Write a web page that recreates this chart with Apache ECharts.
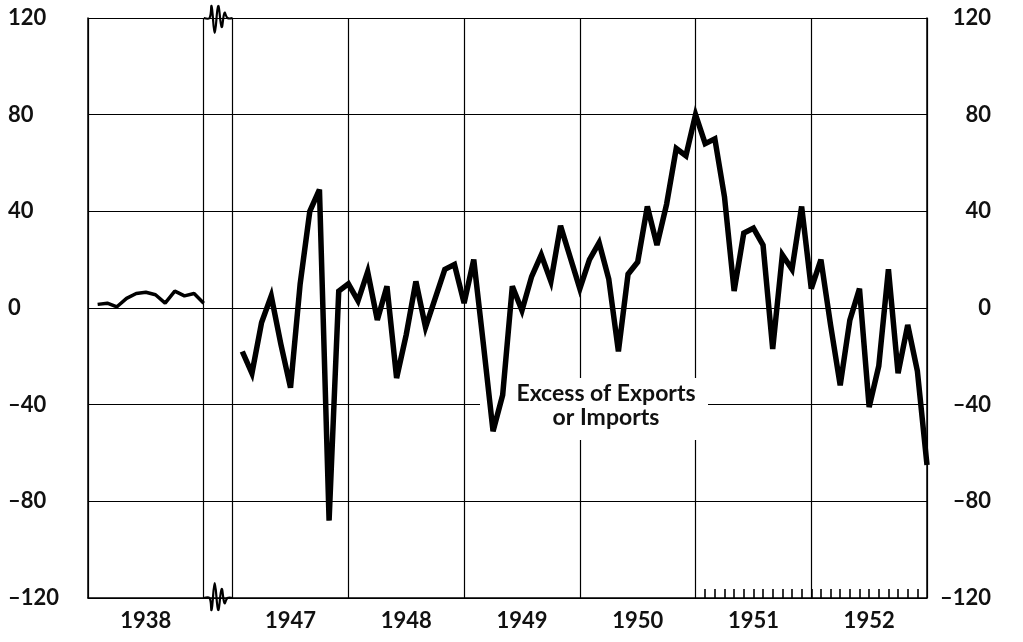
<!DOCTYPE html>
<html>
<head>
<meta charset="utf-8">
<script src="https://cdn.jsdelivr.net/npm/echarts@6/dist/echarts.min.js"></script>
<style>
html,body{margin:0;padding:0;background:#fff;}
#c{width:1023px;height:642px;}
</style>
</head>
<body>
<div id="c"></div>
<script>
// ---- data (monthly, plotted at month end) ----
const years = ['1938', '1947', '1948', '1949', '1950', '1951', '1952'];
const v1938 = [1.5, 2, 0.5, 4, 6, 6.5, 5.5, 2, 7, 5, 6, 2];
const v1947 = [-18, -27, -6, 5, -15, -33, 10, 40, 49, -88, 7, 10];
const v1948 = [3, 15, -5, 9, -29, -11, 11, -8, 4, 16, 18, 2];
const v1949 = [20, -15, -51, -36, 9, -1, 13, 22, 11, 34, 21, 8];
const v1950 = [20, 27, 12, -18, 14, 19, 42, 26, 43, 66, 63, 80];
const v1951 = [68, 70, 46, 7, 31, 33, 26, -17, 22, 16, 42, 8];
const v1952 = [20, -7, -32, -5, 8, -41, -24, 16, -27, -7, -26, -65];
const yTicks = [-120, -80, -40, 0, 40, 80, 120];
const annotation = 'Excess of Exports\nor Imports';

// ---- layout of the broken time axis (in months) ----
const GAP = 3;                      // blank months drawn between 1938 and 1947
const postYears = [v1947, v1948, v1949, v1950, v1951, v1952];
const startPost = 12 + GAP;
const xMax = startPost + postYears.length * 12;

const data1938 = v1938.map((v, i) => [i + 1, v]);
const dataPost = [];
postYears.forEach((arr, yi) => arr.forEach((v, m) => dataPost.push([startPost + yi * 12 + m + 1, v])));

const cats = [];
for (let i = 0; i <= xMax; i++) cats.push(String(i));
const yearLines = [0, 12];
for (let k = 0; k <= postYears.length; k++) yearLines.push(startPost + k * 12);
const labelAt = {6: years[0]};
for (let k = 0; k < postYears.length; k++) labelAt[startPost + k * 12 + 6] = years[k + 1];

const FONT = 'Lato';
const fmtY = v => (v < 0 ? '\u2013' + Math.abs(v) : String(v));

const chart = echarts.init(document.getElementById('c'), null, {renderer: 'canvas'});
chart.setOption({
  animation: false,
  backgroundColor: '#fff',
  grid: {left: 88, right: 96, top: 18, bottom: 44},
  xAxis: [
    {type: 'value', min: 0, max: xMax, show: false},
    {
      type: 'category', data: cats, boundaryGap: false, position: 'bottom',
      axisLine: {show: true, onZero: false, lineStyle: {color: '#000', width: 1.5}},
      axisTick: {show: true, inside: true, length: 9, lineStyle: {color: '#000', width: 1.6},
                 interval: (i) => i > 63 && i < xMax},
      axisLabel: {show: true, interval: (i) => labelAt[i] !== undefined,
                  formatter: (v, i) => labelAt[i] || '', margin: 12,
                  fontFamily: FONT, fontSize: 22, fontWeight: 'bold', color: '#111'},
      splitLine: {show: true, interval: (i) => yearLines.indexOf(i) >= 0,
                  lineStyle: {color: '#000', width: 1.2}}
    }
  ],
  yAxis: [
    {
      type: 'value', min: -120, max: 120, interval: 40, position: 'left',
      axisLine: {show: true, lineStyle: {color: '#000', width: 1.5}},
      axisTick: {show: false},
      axisLabel: {align: 'left', margin: 80, formatter: fmtY,
                  fontFamily: FONT, fontSize: 22, fontWeight: 'bold', color: '#111'},
      splitLine: {show: true, lineStyle: {color: '#000', width: 1.2}}
    },
    {
      type: 'value', min: -120, max: 120, interval: 40, position: 'right',
      axisLine: {show: true, lineStyle: {color: '#000', width: 1.5}},
      axisTick: {show: false},
      axisLabel: {align: 'right', margin: 64, formatter: fmtY,
                  fontFamily: FONT, fontSize: 22, fontWeight: 'bold', color: '#111'},
      splitLine: {show: false}
    }
  ],
  graphic: [
    {type: 'rect', z: 5, shape: {x: 480, y: 378, width: 228, height: 62}, style: {fill: '#fff'}},
    {type: 'text', x: 606, y: 382, z: 6,
     style: {text: annotation, font: 'bold 23px ' + FONT, fill: '#111', align: 'center',
             verticalAlign: 'top', lineHeight: 24}}
  ],
  series: [
    {type: 'line', xAxisIndex: 0, yAxisIndex: 0, data: data1938, symbol: 'none',
     lineStyle: {color: '#000', width: 3.5}, z: 10},
    {type: 'line', xAxisIndex: 0, yAxisIndex: 0, data: dataPost, symbol: 'none',
     lineStyle: {color: '#000', width: 5.5, join: 'miter', miterLimit: 4}, z: 10},
    {
      type: 'custom', xAxisIndex: 0, yAxisIndex: 0, z: 20,
      data: [[12, 120, 1], [12, -120, -1]],
      renderItem: function (params, api) {
        const p0 = api.coord([api.value(0), api.value(1)]);
        const p1 = api.coord([api.value(0) + GAP, api.value(1)]);
        const w = p1[0] - p0[0];
        const s = api.value(2); // 1: top squiggle, -1: bottom squiggle
        const x = p0[0], y = p0[1];
        const f = [[0, 0], [0.2, 0], [0.27, -s * 0.8], [0.38, s * 1.0], [0.5, -s * 0.8],
                   [0.62, s * 0.6], [0.72, -s * 0.35], [0.82, 0], [1, 0]];
        const amp = 15;
        const pts = f.map(q => [x + q[0] * w, y + q[1] * amp]);
        return {type: 'polyline', shape: {points: pts, smooth: 0.4},
                style: {stroke: '#000', lineWidth: 2.2, fill: null}};
      }
    }
  ]
});
</script>
</body>
</html>
